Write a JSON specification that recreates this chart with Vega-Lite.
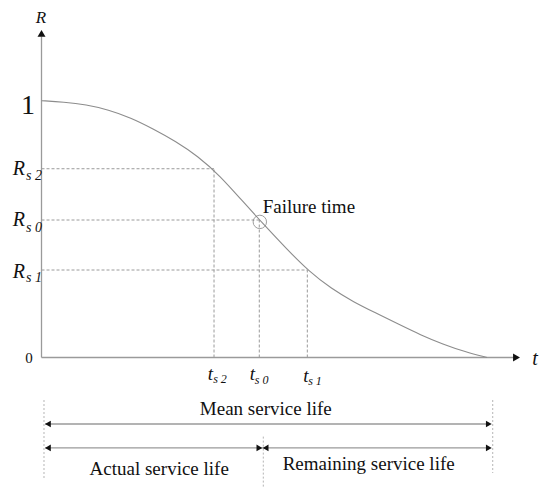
{
  "$schema": "https://vega.github.io/schema/vega-lite/v6.json",
  "width": 550,
  "height": 497,
  "autosize": {"type": "fit", "contains": "padding"},
  "padding": 0,
  "background": "white",
  "config": {"view": {"stroke": null}, "text": {"font": "Liberation Serif"}},
  "datasets": {
    "curve": [
      {"t": 0, "R": 1.0}, {"t": 5, "R": 0.995}, {"t": 10, "R": 0.985}, {"t": 15, "R": 0.965},
      {"t": 20, "R": 0.934}, {"t": 25, "R": 0.891}, {"t": 30, "R": 0.843}, {"t": 35, "R": 0.785},
      {"t": 40, "R": 0.708}, {"t": 45, "R": 0.61}, {"t": 50, "R": 0.515}, {"t": 55, "R": 0.422},
      {"t": 60, "R": 0.335}, {"t": 65, "R": 0.268}, {"t": 70, "R": 0.216}, {"t": 75, "R": 0.173},
      {"t": 80, "R": 0.13}, {"t": 85, "R": 0.088}, {"t": 90, "R": 0.052}, {"t": 95, "R": 0.022},
      {"t": 99.9, "R": 0}
    ],
    "guides": [
      {"name": "s2", "t": 38.68, "R": 0.735, "t0": 0, "R0": 0},
      {"name": "s0", "t": 48.83, "R": 0.5354, "t0": 0, "R0": 0},
      {"name": "s1", "t": 59.6, "R": 0.3407, "t0": 0, "R0": 0}
    ],
    "axes": [
      {"axis": "R", "t": 0, "R": 0, "t2": 0, "R2": 1.25},
      {"axis": "t", "t": 0, "R": 0, "t2": 106, "R2": 0}
    ],
    "axisHeads": [
      {"dir": "up", "t": 0, "R": 1.262},
      {"dir": "right", "t": 106.5, "R": 0}
    ],
    "spans": [
      {"span": "Mean service life", "t": 0.8, "t2": 100.3, "R": -0.259},
      {"span": "Actual + Remaining", "t": 0.8, "t2": 100.3, "R": -0.352}
    ],
    "spanHeads": [
      {"dir": "left", "t": 1.43, "R": -0.259},
      {"dir": "right", "t": 100.3, "R": -0.259},
      {"dir": "left", "t": 1.43, "R": -0.352},
      {"dir": "right", "t": 48.86, "R": -0.352},
      {"dir": "left", "t": 50.25, "R": -0.352},
      {"dir": "right", "t": 100.3, "R": -0.352}
    ],
    "spanEdges": [
      {"t": 0.56, "R": -0.1655, "R2": -0.477},
      {"t": 49.73, "R": -0.308, "R2": -0.503},
      {"t": 101.17, "R": -0.1655, "R2": -0.4498}
    ],
    "failure": [{"t": 48.95, "R": 0.528}],
    "labels": [
      {"kind": "axisR", "text": "R", "t": -0.1, "R": 1.3037},
      {"kind": "axisT", "text": "t", "t": 110.65, "R": -0.0292},
      {"kind": "one", "text": "1", "t": -3.03, "R": 0.948},
      {"kind": "zero", "text": "0", "t": -2.8, "R": -0.0226},
      {"kind": "Rsym", "text": "R", "t": -5.09, "R": 0.7107},
      {"kind": "Rsym", "text": "R", "t": -5.09, "R": 0.512},
      {"kind": "Rsym", "text": "R", "t": -5.09, "R": 0.3084},
      {"kind": "Rsub", "text": "s 2", "t": -1.68, "R": 0.6912},
      {"kind": "Rsub", "text": "s 0", "t": -1.68, "R": 0.4899},
      {"kind": "Rsub", "text": "s 1", "t": -1.68, "R": 0.2952},
      {"kind": "tsym", "text": "t", "t": 37.89, "R": -0.0876},
      {"kind": "tsym", "text": "t", "t": 47.31, "R": -0.0876},
      {"kind": "tsym", "text": "t", "t": 59.26, "R": -0.0942},
      {"kind": "tsub", "text": "s 2", "t": 40.02, "R": -0.1005},
      {"kind": "tsub", "text": "s 0", "t": 49.37, "R": -0.1032},
      {"kind": "tsub", "text": "s 1", "t": 61.32, "R": -0.1071},
      {"kind": "note", "text": "Failure time", "t": 49.6, "R": 0.5615},
      {"kind": "caption", "text": "Mean service life", "t": 50.29, "R": -0.224},
      {"kind": "caption", "text": "Actual service life", "t": 26.39, "R": -0.4576},
      {"kind": "caption", "text": "Remaining service life", "t": 73.36, "R": -0.438}
    ]
  },
  "layer": [
    {
      "data": {"name": "guides"},
      "mark": {"type": "rule", "color": "#9a9a9a", "strokeWidth": 1, "strokeDash": [3, 2]},
      "encoding": {
        "x": {"field": "t0", "type": "quantitative", "scale": {"domain": [-9.305, 114.01], "nice": false, "zero": false}, "axis": null},
        "x2": {"field": "t"},
        "y": {"field": "R", "type": "quantitative", "scale": {"domain": [-0.5432, 1.3921], "nice": false, "zero": false}, "axis": null}
      }
    },
    {
      "data": {"name": "guides"},
      "mark": {"type": "rule", "color": "#9a9a9a", "strokeWidth": 1, "strokeDash": [3, 2]},
      "encoding": {
        "x": {"field": "t", "type": "quantitative", "scale": {"domain": [-9.305, 114.01], "nice": false, "zero": false}, "axis": null},
        "y": {"field": "R0", "type": "quantitative", "scale": {"domain": [-0.5432, 1.3921], "nice": false, "zero": false}, "axis": null},
        "y2": {"field": "R"}
      }
    },
    {
      "data": {"name": "spanEdges"},
      "mark": {"type": "rule", "color": "#b5b5b5", "strokeWidth": 1, "strokeDash": [2, 2]},
      "encoding": {
        "x": {"field": "t", "type": "quantitative", "scale": {"domain": [-9.305, 114.01], "nice": false, "zero": false}, "axis": null},
        "y": {"field": "R", "type": "quantitative", "scale": {"domain": [-0.5432, 1.3921], "nice": false, "zero": false}, "axis": null},
        "y2": {"field": "R2"}
      }
    },
    {
      "data": {"name": "axes"},
      "mark": {"type": "rule", "color": "#9a9a9a", "strokeWidth": 1.3},
      "encoding": {
        "x": {"field": "t", "type": "quantitative", "scale": {"domain": [-9.305, 114.01], "nice": false, "zero": false}, "axis": null},
        "x2": {"field": "t2"},
        "y": {"field": "R", "type": "quantitative", "scale": {"domain": [-0.5432, 1.3921], "nice": false, "zero": false}, "axis": null},
        "y2": {"field": "R2"}
      }
    },
    {
      "data": {"name": "spans"},
      "mark": {"type": "rule", "color": "#9a9a9a", "strokeWidth": 1.4},
      "encoding": {
        "x": {"field": "t", "type": "quantitative", "scale": {"domain": [-9.305, 114.01], "nice": false, "zero": false}, "axis": null},
        "x2": {"field": "t2"},
        "y": {"field": "R", "type": "quantitative", "scale": {"domain": [-0.5432, 1.3921], "nice": false, "zero": false}, "axis": null}
      }
    },
    {
      "data": {"name": "curve"},
      "mark": {"type": "line", "color": "#8c8c8c", "strokeWidth": 1.1, "interpolate": "basis"},
      "encoding": {
        "x": {"field": "t", "type": "quantitative", "scale": {"domain": [-9.305, 114.01], "nice": false, "zero": false}, "axis": null},
        "y": {"field": "R", "type": "quantitative", "scale": {"domain": [-0.5432, 1.3921], "nice": false, "zero": false}, "axis": null}
      }
    },
    {
      "data": {"name": "failure"},
      "mark": {"type": "point", "shape": "circle", "size": 180, "filled": false, "color": "#777777", "strokeWidth": 1},
      "encoding": {
        "x": {"field": "t", "type": "quantitative", "scale": {"domain": [-9.305, 114.01], "nice": false, "zero": false}, "axis": null},
        "y": {"field": "R", "type": "quantitative", "scale": {"domain": [-0.5432, 1.3921], "nice": false, "zero": false}, "axis": null}
      }
    },
    {
      "data": {"name": "axisHeads"},
      "mark": {"type": "point", "filled": true, "size": 64, "color": "#111111", "opacity": 1},
      "encoding": {
        "x": {"field": "t", "type": "quantitative", "scale": {"domain": [-9.305, 114.01], "nice": false, "zero": false}, "axis": null},
        "y": {"field": "R", "type": "quantitative", "scale": {"domain": [-0.5432, 1.3921], "nice": false, "zero": false}, "axis": null},
        "shape": {"field": "dir", "type": "nominal", "scale": {"domain": ["up", "right", "left"], "range": ["triangle-up", "triangle-right", "triangle-left"]}, "legend": null}
      }
    },
    {
      "data": {"name": "spanHeads"},
      "mark": {"type": "point", "filled": true, "size": 45, "color": "#111111", "opacity": 1},
      "encoding": {
        "x": {"field": "t", "type": "quantitative", "scale": {"domain": [-9.305, 114.01], "nice": false, "zero": false}, "axis": null},
        "y": {"field": "R", "type": "quantitative", "scale": {"domain": [-0.5432, 1.3921], "nice": false, "zero": false}, "axis": null},
        "shape": {"field": "dir", "type": "nominal", "scale": {"domain": ["up", "right", "left"], "range": ["triangle-up", "triangle-right", "triangle-left"]}, "legend": null}
      }
    },
    {
      "data": {"name": "labels"},
      "transform": [{"filter": "datum.kind === 'axisR'"}],
      "mark": {"type": "text", "font": "Liberation Serif", "fontSize": 17, "fontStyle": "italic", "align": "center", "baseline": "alphabetic", "color": "#111111"},
      "encoding": {
        "x": {"field": "t", "type": "quantitative", "scale": {"domain": [-9.305, 114.01], "nice": false, "zero": false}, "axis": null},
        "y": {"field": "R", "type": "quantitative", "scale": {"domain": [-0.5432, 1.3921], "nice": false, "zero": false}, "axis": null},
        "text": {"field": "text", "type": "nominal"}
      }
    },
    {
      "data": {"name": "labels"},
      "transform": [{"filter": "datum.kind === 'axisT'"}],
      "mark": {"type": "text", "font": "Liberation Serif", "fontSize": 20, "fontStyle": "italic", "align": "center", "baseline": "alphabetic", "color": "#111111"},
      "encoding": {
        "x": {"field": "t", "type": "quantitative", "scale": {"domain": [-9.305, 114.01], "nice": false, "zero": false}, "axis": null},
        "y": {"field": "R", "type": "quantitative", "scale": {"domain": [-0.5432, 1.3921], "nice": false, "zero": false}, "axis": null},
        "text": {"field": "text", "type": "nominal"}
      }
    },
    {
      "data": {"name": "labels"},
      "transform": [{"filter": "datum.kind === 'one'"}],
      "mark": {"type": "text", "font": "Liberation Serif", "fontSize": 28, "align": "center", "baseline": "alphabetic", "color": "#111111"},
      "encoding": {
        "x": {"field": "t", "type": "quantitative", "scale": {"domain": [-9.305, 114.01], "nice": false, "zero": false}, "axis": null},
        "y": {"field": "R", "type": "quantitative", "scale": {"domain": [-0.5432, 1.3921], "nice": false, "zero": false}, "axis": null},
        "text": {"field": "text", "type": "nominal"}
      }
    },
    {
      "data": {"name": "labels"},
      "transform": [{"filter": "datum.kind === 'zero'"}],
      "mark": {"type": "text", "font": "Liberation Serif", "fontSize": 15, "align": "center", "baseline": "alphabetic", "color": "#111111"},
      "encoding": {
        "x": {"field": "t", "type": "quantitative", "scale": {"domain": [-9.305, 114.01], "nice": false, "zero": false}, "axis": null},
        "y": {"field": "R", "type": "quantitative", "scale": {"domain": [-0.5432, 1.3921], "nice": false, "zero": false}, "axis": null},
        "text": {"field": "text", "type": "nominal"}
      }
    },
    {
      "data": {"name": "labels"},
      "transform": [{"filter": "datum.kind === 'Rsym'"}],
      "mark": {"type": "text", "font": "Liberation Serif", "fontSize": 20, "fontStyle": "italic", "align": "center", "baseline": "alphabetic", "color": "#111111"},
      "encoding": {
        "x": {"field": "t", "type": "quantitative", "scale": {"domain": [-9.305, 114.01], "nice": false, "zero": false}, "axis": null},
        "y": {"field": "R", "type": "quantitative", "scale": {"domain": [-0.5432, 1.3921], "nice": false, "zero": false}, "axis": null},
        "text": {"field": "text", "type": "nominal"}
      }
    },
    {
      "data": {"name": "labels"},
      "transform": [{"filter": "datum.kind === 'Rsub'"}],
      "mark": {"type": "text", "font": "Liberation Serif", "fontSize": 14, "fontStyle": "italic", "align": "center", "baseline": "alphabetic", "color": "#111111"},
      "encoding": {
        "x": {"field": "t", "type": "quantitative", "scale": {"domain": [-9.305, 114.01], "nice": false, "zero": false}, "axis": null},
        "y": {"field": "R", "type": "quantitative", "scale": {"domain": [-0.5432, 1.3921], "nice": false, "zero": false}, "axis": null},
        "text": {"field": "text", "type": "nominal"}
      }
    },
    {
      "data": {"name": "labels"},
      "transform": [{"filter": "datum.kind === 'tsym'"}],
      "mark": {"type": "text", "font": "Liberation Serif", "fontSize": 19, "fontStyle": "italic", "align": "center", "baseline": "alphabetic", "color": "#111111"},
      "encoding": {
        "x": {"field": "t", "type": "quantitative", "scale": {"domain": [-9.305, 114.01], "nice": false, "zero": false}, "axis": null},
        "y": {"field": "R", "type": "quantitative", "scale": {"domain": [-0.5432, 1.3921], "nice": false, "zero": false}, "axis": null},
        "text": {"field": "text", "type": "nominal"}
      }
    },
    {
      "data": {"name": "labels"},
      "transform": [{"filter": "datum.kind === 'tsub'"}],
      "mark": {"type": "text", "font": "Liberation Serif", "fontSize": 12, "fontStyle": "italic", "align": "center", "baseline": "alphabetic", "color": "#111111"},
      "encoding": {
        "x": {"field": "t", "type": "quantitative", "scale": {"domain": [-9.305, 114.01], "nice": false, "zero": false}, "axis": null},
        "y": {"field": "R", "type": "quantitative", "scale": {"domain": [-0.5432, 1.3921], "nice": false, "zero": false}, "axis": null},
        "text": {"field": "text", "type": "nominal"}
      }
    },
    {
      "data": {"name": "labels"},
      "transform": [{"filter": "datum.kind === 'note'"}],
      "mark": {"type": "text", "font": "Liberation Serif", "fontSize": 19, "align": "left", "baseline": "alphabetic", "color": "#111111"},
      "encoding": {
        "x": {"field": "t", "type": "quantitative", "scale": {"domain": [-9.305, 114.01], "nice": false, "zero": false}, "axis": null},
        "y": {"field": "R", "type": "quantitative", "scale": {"domain": [-0.5432, 1.3921], "nice": false, "zero": false}, "axis": null},
        "text": {"field": "text", "type": "nominal"}
      }
    },
    {
      "data": {"name": "labels"},
      "transform": [{"filter": "datum.kind === 'caption'"}],
      "mark": {"type": "text", "font": "Liberation Serif", "fontSize": 19, "align": "center", "baseline": "alphabetic", "color": "#111111"},
      "encoding": {
        "x": {"field": "t", "type": "quantitative", "scale": {"domain": [-9.305, 114.01], "nice": false, "zero": false}, "axis": null},
        "y": {"field": "R", "type": "quantitative", "scale": {"domain": [-0.5432, 1.3921], "nice": false, "zero": false}, "axis": null},
        "text": {"field": "text", "type": "nominal"}
      }
    }
  ]
}
